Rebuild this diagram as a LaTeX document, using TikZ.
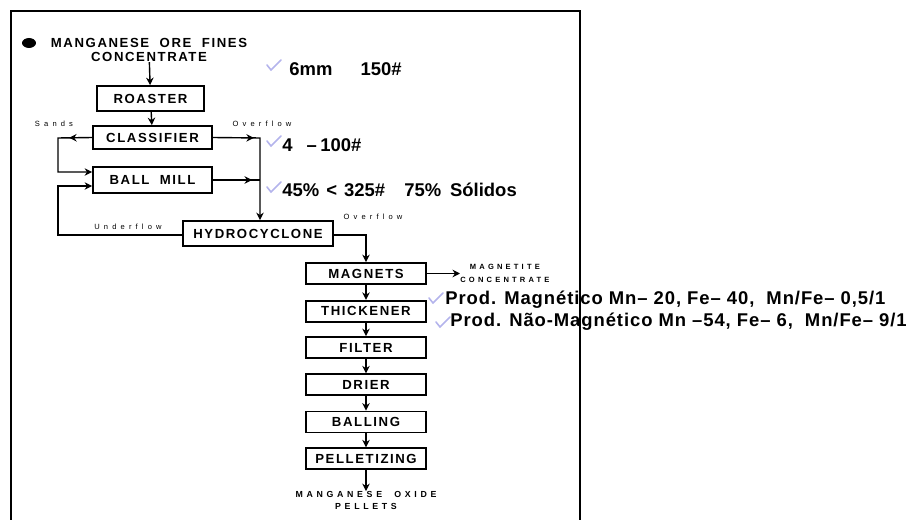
\documentclass[tikz,border=0pt]{standalone}
\usepackage{fontspec}
\setmainfont{Liberation Sans}
\newfontfamily\boxfont[LetterSpace=12]{Liberation Sans}
\newfontfamily\flowfont[LetterSpace=55]{Liberation Sans}
\newfontfamily\outfont[LetterSpace=42]{Liberation Sans}
\newfontfamily\notefont[LetterSpace=5]{Liberation Sans}
\usepackage{tikz}
\usetikzlibrary{arrows.meta,positioning,decorations.markings,shapes.geometric}
\definecolor{mnink}{HTML}{000000}
\definecolor{mntick}{HTML}{B4B4EC}

\begin{document}
\begin{tikzpicture}[
  x=0.02cm, y=-0.02cm,
  node distance=0.27cm,
  unit/.style={draw=mnink,line width=1pt,minimum width=2.4cm,minimum height=0.42cm,inner sep=0pt,font=\boxfont\bfseries\fontsize{7.5}{9}\selectfont},
  flowlabel/.style={inner sep=0pt,font=\flowfont\fontsize{4.3}{5}\selectfont},
  outlabel/.style={inner sep=0pt,align=center,font=\outfont\bfseries\fontsize{4.3}{7.5}\selectfont},
  note/.style={anchor=west,inner sep=0pt,font=\bfseries\fontsize{10.5}{12}\selectfont},
  prodnote/.style={anchor=west,inner sep=0pt,font=\notefont\bfseries\fontsize{10.5}{12}\selectfont},
  arrow/.style={-{Stealth[length=1.5mm,width=1.5mm]},line width=0.8pt,color=mnink},
  midtip/.style={postaction={decorate,decoration={markings,mark=at position #1 with {\arrow{Stealth[length=1.5mm,width=1.5mm]}}}}},
  tick/.pic={\draw[mntick,line width=0.9pt,line cap=round] (-7,-1) -- (-3,4) -- (7,-6);}
]
  \useasboundingbox (0,0) rectangle (910,520);
  % page frame, open at the bottom
  \draw[line width=1.7pt] (11,522) -- (11,11) -- (580,11) -- (580,522);

  % feed and grinding circuit
  \node[ellipse,fill=mnink,inner sep=0pt,minimum width=2.8mm,minimum height=2mm] (bullet) at (29,43) {};
  \node[align=center,inner sep=0pt,font=\boxfont\bfseries\fontsize{7.5}{8}\selectfont] (feed) at (149,50) {MANGANESE\ \ ORE\ \ FINES\\CONCENTRATE};
  \node[unit,minimum width=2.14cm,minimum height=0.5cm] (roaster) at (150.5,98.5) {ROASTER};
  \node[unit,minimum width=2.38cm,minimum height=0.46cm] (classifier) at (152.5,137.5) {CLASSIFIER};
  \node[unit,minimum width=2.38cm,minimum height=0.52cm] (ballmill) at (152.5,180) {BALL\ \ MILL};
  \node[unit,minimum width=3cm,minimum height=0.5cm] (hydro) at (258,233.5) {HYDROCYCLONE};

  % concentration line
  \node[unit] (magnets) at (366,273.5) {MAGNETS};
  \node[unit,below=0.3cm of magnets] (thickener) {THICKENER};
  \node[unit,below=of thickener] (filter) {FILTER};
  \node[unit,below=0.29cm of filter] (drier) {DRIER};
  \node[unit,below=0.29cm of drier] (balling) {BALLING};
  \node[unit,below=0.28cm of balling] (pelletizing) {PELLETIZING};
  \node[outlabel,font=\outfont\bfseries\fontsize{5}{7}\selectfont,below=0.42cm of pelletizing] (pellets) {MANGANESE\ \ OXIDE\\PELLETS};
  \node[outlabel,anchor=west] (magnetite) at (460,273.5) {MAGNETITE\\CONCENTRATE};

  % stream labels
  \node[flowlabel] (sands) at (54,124) {Sands};
  \node[flowlabel] (overflowA) at (262,124) {Overflow};
  \node[flowlabel] (underflow) at (128,227) {Underflow};
  \node[flowlabel] (overflowB) at (373,217) {Overflow};

  \coordinate (sandsA) at (58,138);
  \coordinate (sandsB) at (58,172);
  \coordinate (overA) at (260,138);
  \coordinate (underA) at (58,235);
  \coordinate (underB) at (58,186);

  \draw[arrow] (feed) -- (roaster);
  \draw[arrow] (roaster) -- (classifier);
  \draw[arrow,midtip=0.46cm] (classifier.west) -- (sandsA) -- (sandsB) -- (sandsB -| ballmill.west);
  \draw[arrow,midtip=0.82cm] (classifier.east) -- (overA) -- (overA |- hydro.north);
  \draw[line width=0.8pt,midtip=0.83] (ballmill.east) -- (ballmill.east -| overA);
  \draw[arrow] (hydro.west |- underA) -- (underA) -- (underB) -- (underB -| ballmill.west);
  \draw[arrow] (hydro.east |- underA) -| (magnets.north);
  \draw[arrow] (magnets) -- (magnetite);
  \draw[arrow] (magnets) -- (thickener);
  \draw[arrow] (thickener) -- (filter);
  \draw[arrow] (filter) -- (drier);
  \draw[arrow] (drier) -- (balling);
  \draw[arrow] (balling) -- (pelletizing);
  \draw[arrow] (pelletizing) -- (pellets);

  % size and assay notes
  \pic at (274,66) {tick};
  \node[note] (sizes) at (289,69) {6mm\hspace{16pt}150\#};
  \pic at (274,142) {tick};
  \node[note] (cut) at (282,145) {4\hspace{8pt}–\hspace{2pt}100\#};
  \pic at (274,188) {tick};
  \node[note] (grind) at (282,190) {45\%\hspace{4pt}<\hspace{4pt}325\#\hspace{11pt}75\%\hspace{5pt}Sólidos};
  \pic at (436,299) {tick};
  \node[prodnote] (prodmag) at (445,300) {Prod. Magnético Mn– 20, Fe– 40,\ \ Mn/Fe– 0,5/1};
  \pic at (443,323) {tick};
  \node[prodnote] (prodnon) at (450,322) {Prod. Não-Magnético Mn –54, Fe– 6,\ \ Mn/Fe– 9/1};
\end{tikzpicture}
\end{document}
